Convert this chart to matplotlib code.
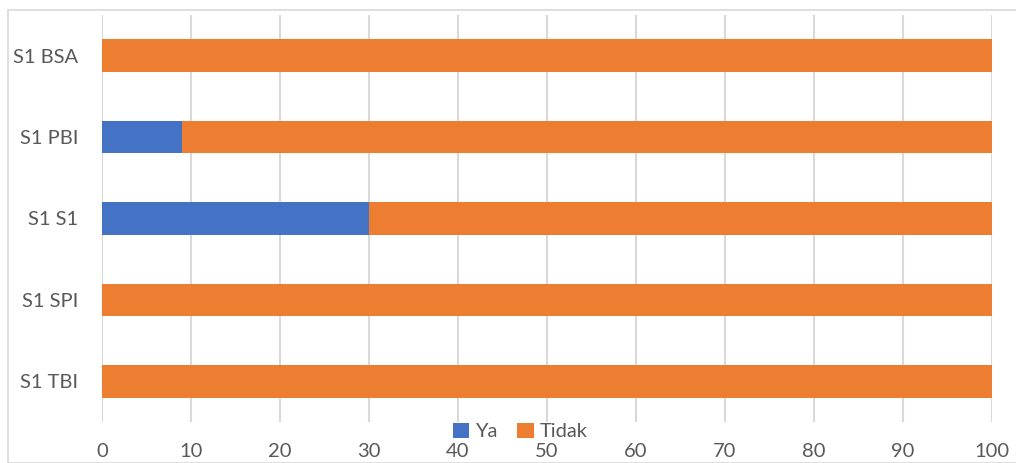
import numpy as np
import matplotlib.pyplot as plt
from matplotlib.patches import Rectangle

categories = ["S1 TBI", "S1 SPI", "S1 S1", "S1 PBI", "S1 BSA"]
ya = [0, 0, 30, 9, 0]
tidak = [100, 100, 70, 91, 100]
xticks = [0, 10, 20, 30, 40, 50, 60, 70, 80, 90, 100]

plt.rcParams['font.family'] = ['Lato', 'DejaVu Sans']

fig = plt.figure(figsize=(10.16, 4.63), dpi=100)
ax = fig.add_axes([0.1004, 0.0886, 0.876, 0.879])

y = np.arange(len(categories))
b1 = ax.barh(y, ya, height=0.4, color="#4472C4", label="Ya", zorder=3)
b2 = ax.barh(y, tidak, left=ya, height=0.4, color="#ED7D31", label="Tidak", zorder=3)

ax.set_xlim(0, 100)
ax.set_ylim(-0.5, len(categories) - 0.5)
ax.set_xticks(xticks)
ax.set_yticks(y)
ax.set_yticklabels(categories)
ax.grid(axis="x", color="#d9d9d9", linewidth=1.5, zorder=0)
ax.set_axisbelow(True)
for s in ax.spines.values():
    s.set_visible(False)
ax.tick_params(axis="both", length=0, labelsize=14.5, colors="#595959")
ax.tick_params(axis="x", pad=15)
ax.tick_params(axis="y", pad=17)

fig.legend(handles=[b1, b2], loc="center", bbox_to_anchor=(0.512, 0.068), ncol=2,
           frameon=False, fontsize=14.5, handlelength=0.8, handleheight=0.8,
           handletextpad=0.3, columnspacing=1.0, labelcolor="#595959",
           borderpad=0.1)

fig.patches.append(Rectangle((8 / 1016, 0), 1.0, 1 - 10 / 463, transform=fig.transFigure,
                             fill=False, edgecolor="#d9d9d9", linewidth=1.2))

fig.savefig("out.png", dpi=100)
